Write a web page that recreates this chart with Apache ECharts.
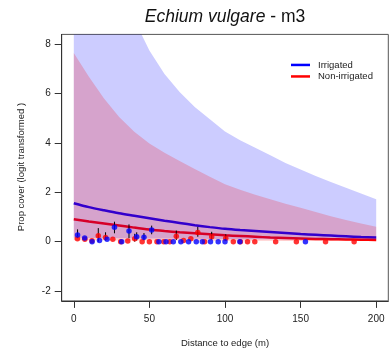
<!DOCTYPE html>
<html>
<head>
<meta charset="utf-8">
<script src="https://cdn.jsdelivr.net/npm/echarts@6/dist/echarts.min.js"></script>
<style>
  html, body { margin: 0; padding: 0; background: #fff; }
  #chart { width: 392px; height: 354px; }
</style>
</head>
<body>
<div id="chart"></div>
<script>
// Distance grid (m) for the fitted curves and their confidence bands
const distances = [0, 10, 20, 30, 40, 50, 60, 70, 80, 90, 100, 110, 120, 130, 140, 150, 160, 170, 180, 190, 200];

// Irrigated fit: mean and band
const irrigatedMean  = [1.56, 1.40, 1.27, 1.15, 1.05, 0.95, 0.85, 0.76, 0.67, 0.59, 0.52, 0.47, 0.43, 0.39, 0.35, 0.31, 0.28, 0.25, 0.22, 0.19, 0.17];
const irrigatedLower = [0.16, 0.15, 0.15, 0.14, 0.14, 0.13, 0.13, 0.12, 0.12, 0.11, 0.11, 0.10, 0.10, 0.10, 0.09, 0.09, 0.09, 0.08, 0.08, 0.08, 0.08];
const irrigatedUpper = [14.0, 12.6, 11.3, 10.1, 9.0, 7.75, 6.80, 6.07, 5.46, 4.96, 4.46, 4.11, 3.81, 3.50, 3.19, 2.92, 2.66, 2.42, 2.19, 1.95, 1.72];

// Non-irrigated fit: mean and band
const nonIrrigatedMean  = [0.91, 0.82, 0.74, 0.66, 0.57, 0.49, 0.43, 0.38, 0.34, 0.30, 0.26, 0.23, 0.20, 0.17, 0.15, 0.13, 0.11, 0.10, 0.09, 0.08, 0.07];
const nonIrrigatedLower = [0.06, 0.06, 0.06, 0.05, 0.05, 0.05, 0.05, 0.05, 0.04, 0.04, 0.04, 0.04, 0.04, 0.04, 0.03, 0.03, 0.03, 0.03, 0.03, 0.03, 0.03];
const nonIrrigatedUpper = [7.65, 6.68, 5.80, 5.05, 4.45, 3.98, 3.60, 3.27, 2.95, 2.63, 2.33, 2.10, 1.90, 1.72, 1.54, 1.37, 1.20, 1.03, 0.88, 0.74, 0.61];

// Observed plot means: [distance, value, lowerBar, upperBar] (null bars = none drawn)
const irrigatedObs = [
  [2.5, 0.27, 0.14, 0.50], [7.2, 0.15, null, null], [12.1, 0.00, null, null], [17.0, 0.05, null, null],
  [22.0, 0.10, null, null], [26.9, 0.58, 0.34, 0.81], [31.7, 0.00, null, null], [36.5, 0.43, 0.14, 0.70],
  [41.6, 0.20, 0.05, 0.38], [46.4, 0.18, 0.05, 0.35], [51.5, 0.47, 0.30, 0.65], [56.3, 0.00, null, null],
  [61.0, 0.00, null, null], [65.8, 0.00, null, null], [70.8, 0.00, null, null], [75.9, 0.00, null, null],
  [81.0, 0.00, null, null], [85.0, 0.00, null, null], [90.4, 0.00, null, null], [95.5, 0.00, null, null],
  [100.0, 0.00, null, null], [109.8, 0.00, null, null], [153.2, 0.00, null, null]
];
const nonIrrigatedObs = [
  [2.4, 0.12, null, null], [7.3, 0.10, null, null], [12.0, 0.04, null, null], [16.2, 0.24, 0.00, 0.55],
  [21.0, 0.17, 0.05, 0.38], [25.8, 0.10, null, null], [31.0, 0.00, null, null], [35.7, 0.03, null, null],
  [40.3, 0.12, 0.00, 0.32], [45.2, 0.00, null, null], [50.0, 0.00, null, null], [55.0, 0.00, null, null],
  [59.5, 0.00, null, null], [63.5, 0.00, null, null], [67.8, 0.22, 0.07, 0.45], [72.6, 0.05, null, null],
  [77.4, 0.12, null, null], [82.0, 0.37, 0.20, 0.60], [86.5, 0.00, null, null], [91.2, 0.20, 0.08, 0.40],
  [100.5, 0.14, 0.04, 0.30], [105.5, 0.00, null, null], [110.2, 0.00, null, null], [114.9, 0.00, null, null],
  [119.7, 0.00, null, null], [133.5, 0.00, null, null], [147.2, 0.00, null, null], [166.5, 0.00, null, null],
  [185.4, 0.00, null, null]
];

const xTicks = [0, 50, 100, 150, 200];
const yTicks = [-2, 0, 2, 4, 6, 8];
const seriesNames = ['Irrigated', 'Non-irrigated'];

const BLUE = '#0000ff';
const RED = '#ff0000';
const FONT = '"Liberation Sans", Arial, sans-serif';
const TEXT = '#222';

const pairs = (ys) => distances.map((d, i) => [d, ys[i]]);

// Confidence band as one polygon: upper edge left->right, lower edge back
function bandSeries(lower, upper, color) {
  return {
    type: 'custom', z: 2, silent: true, clip: true,
    data: [[distances[0], lower[0]]],
    renderItem: function (params, api) {
      const top = distances.map((d, i) => api.coord([d, upper[i]]));
      const bottom = distances.map((d, i) => api.coord([d, lower[i]])).reverse();
      return { type: 'polygon', shape: { points: top.concat(bottom) },
               style: { fill: color, stroke: null } };
    }
  };
}

function barSeries(obs) {
  return {
    type: 'custom', z: 4, silent: true,
    data: obs.filter(o => o[2] !== null).map(o => [o[0], o[2], o[3]]),
    renderItem: function (params, api) {
      const a = api.coord([api.value(0), api.value(1)]);
      const b = api.coord([api.value(0), api.value(2)]);
      return { type: 'line', shape: { x1: a[0], y1: a[1], x2: b[0], y2: b[1] },
               style: { stroke: '#000', lineWidth: 1 } };
    }
  };
}

function pointSeries(obs, color) {
  return { type: 'scatter', z: 5, silent: true, symbol: 'circle', symbolSize: 5.5,
           itemStyle: { color: color }, data: obs.map(o => [o[0], o[1]]) };
}

const chart = echarts.init(document.getElementById('chart'), null, { renderer: 'canvas' });

chart.setOption({
  animation: false,
  backgroundColor: '#fff',
  grid: { left: 61.7, right: 3.7, top: 34.4, bottom: 53.1, show: true, borderColor: '#555', borderWidth: 1 },
  xAxis: {
    type: 'value', min: -8, max: 208,
    splitLine: { show: false },
    axisLine: { show: true, onZero: false, lineStyle: { color: '#333', width: 1 } },
    axisTick: { show: true, length: 7, customValues: xTicks, lineStyle: { color: '#333' } },
    axisLabel: { customValues: xTicks, margin: 13, fontSize: 10, color: TEXT, fontFamily: FONT }
  },
  yAxis: {
    type: 'value', min: -2.4, max: 8.4,
    splitLine: { show: false },
    axisLine: { show: true, onZero: false, lineStyle: { color: '#333', width: 1 } },
    axisTick: { show: true, length: 7, customValues: yTicks, lineStyle: { color: '#333' } },
    axisLabel: { customValues: yTicks, margin: 11, fontSize: 10, color: TEXT, fontFamily: FONT }
  },
  legend: {
    orient: 'vertical', left: 286, top: 54.2, itemGap: 0,
    itemWidth: 19, itemHeight: 2.5, icon: 'rect',
    data: seriesNames,
    textStyle: { fontSize: 9.5, color: TEXT, fontFamily: FONT, lineHeight: 11.5, padding: [0, 0, 0, 3] }
  },
  graphic: [
    { type: 'text', x: 225, y: 17.5, style: {
        text: '{i|Echium vulgare}{n| - m3}', align: 'center', verticalAlign: 'middle',
        rich: {
          i: { fontSize: 17.5, fontStyle: 'italic', fontFamily: FONT, fill: '#111' },
          n: { fontSize: 17.5, fontFamily: FONT, fill: '#111' }
        } } },
    { type: 'text', x: 225, y: 343, style: {
        text: 'Distance to edge (m)', align: 'center', verticalAlign: 'middle',
        fontSize: 9.5, fontFamily: FONT, fill: TEXT } },
    { type: 'text', x: 21, y: 167, rotation: Math.PI / 2, style: {
        text: 'Prop cover (logit transformed )', align: 'center', verticalAlign: 'middle',
        fontSize: 9.5, fontFamily: FONT, fill: TEXT } }
  ],
  series: [
    // fitted curves sit beneath the translucent bands
    { name: seriesNames[0], type: 'line', data: pairs(irrigatedMean), symbol: 'none', smooth: 0.3,
      lineStyle: { color: BLUE, width: 2.5 }, itemStyle: { color: BLUE }, z: 1 },
    { name: seriesNames[1], type: 'line', data: pairs(nonIrrigatedMean), symbol: 'none', smooth: 0.3,
      lineStyle: { color: RED, width: 2.5 }, itemStyle: { color: RED }, z: 1 },
    bandSeries(irrigatedLower, irrigatedUpper, 'rgba(0,0,255,0.2)'),
    bandSeries(nonIrrigatedLower, nonIrrigatedUpper, 'rgba(255,0,0,0.2)'),
    barSeries(irrigatedObs),
    barSeries(nonIrrigatedObs),
    pointSeries(nonIrrigatedObs, RED),
    pointSeries(irrigatedObs, BLUE)
  ]
});
</script>
</body>
</html>
